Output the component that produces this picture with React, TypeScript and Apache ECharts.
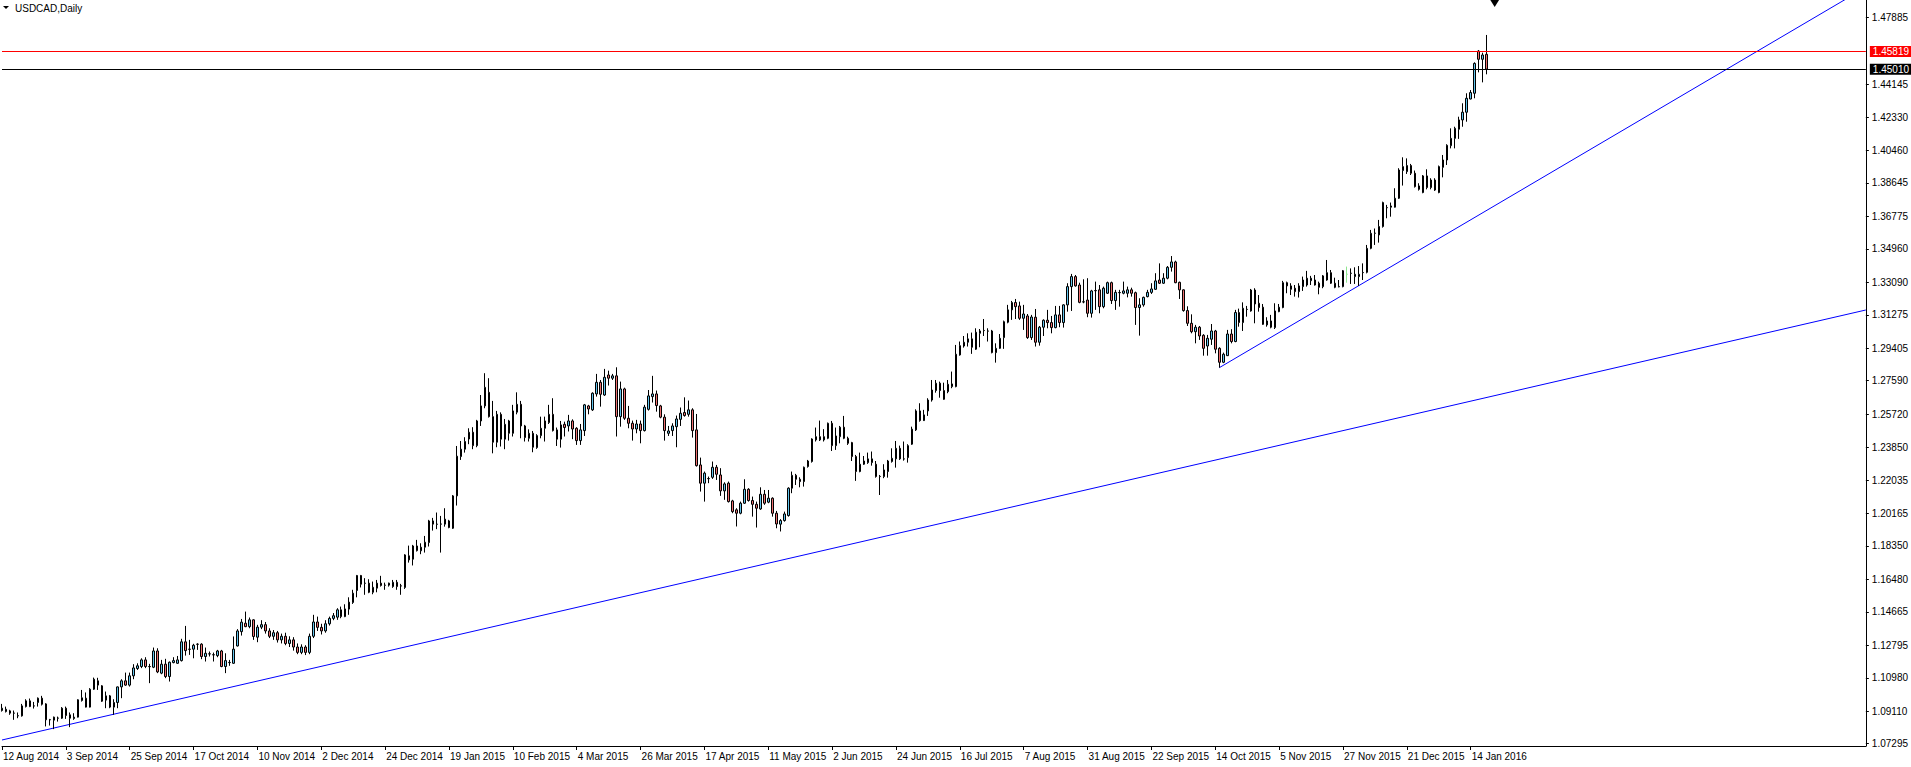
import React, { useEffect, useRef } from "react";
import * as echarts from "echarts";

const chartTitle = "USDCAD,Daily";
const dateLabels = [
  "12 Aug 2014", "3 Sep 2014", "25 Sep 2014", "17 Oct 2014", "10 Nov 2014", "2 Dec 2014",
  "24 Dec 2014", "19 Jan 2015", "10 Feb 2015", "4 Mar 2015", "26 Mar 2015", "17 Apr 2015",
  "11 May 2015", "2 Jun 2015", "24 Jun 2015", "16 Jul 2015", "7 Aug 2015", "31 Aug 2015",
  "22 Sep 2015", "14 Oct 2015", "5 Nov 2015", "27 Nov 2015", "21 Dec 2015", "14 Jan 2016",
];
const barsPerLabel = 16;
const slotCount = 468;
const priceTicks = [
  1.07295, 1.0911, 1.1098, 1.12795, 1.14665, 1.1648, 1.1835, 1.20165, 1.22035, 1.2385, 1.2572,
  1.2759, 1.29405, 1.31275, 1.3309, 1.3496, 1.36775, 1.38645, 1.4046, 1.4233, 1.44145, 1.47885,
];
const priceMin = 1.07166;
const priceMax = 1.48875;

// [open, close, low, high]
const ohlc: number[][] = [
  [1.0915, 1.0928, 1.0909, 1.0952], [1.0909, 1.0922, 1.0904, 1.0937], [1.0913, 1.0900, 1.0891, 1.0919],
  [1.0900, 1.0901, 1.0863, 1.0915], [1.0885, 1.0886, 1.0872, 1.0904], [1.0885, 1.0941, 1.0881, 1.0952],
  [1.0937, 1.0969, 1.0932, 1.0978], [1.0969, 1.0937, 1.0934, 1.0982], [1.0941, 1.0940, 1.0926, 1.0963],
  [1.0960, 1.0984, 1.0937, 1.0988], [1.0984, 1.0950, 1.0943, 1.0997], [1.0952, 1.0863, 1.0826, 1.0956],
  [1.0863, 1.0864, 1.0831, 1.0868], [1.0861, 1.0878, 1.0811, 1.0881], [1.0872, 1.0873, 1.0853, 1.0881],
  [1.0872, 1.0928, 1.0868, 1.0934], [1.0928, 1.0887, 1.0868, 1.0937], [1.0891, 1.0872, 1.0822, 1.0904],
  [1.0870, 1.0878, 1.0863, 1.0900], [1.0878, 1.0975, 1.0876, 1.0978], [1.0971, 1.0986, 1.0965, 1.1030],
  [1.0984, 1.0934, 1.0932, 1.1016], [1.0934, 1.1034, 1.0932, 1.1040], [1.1034, 1.1090, 1.1030, 1.1099],
  [1.1081, 1.1057, 1.1030, 1.1098], [1.1053, 1.0967, 1.0963, 1.1057], [1.0973, 1.0997, 1.0928, 1.1021],
  [1.0997, 1.0934, 1.0928, 1.1002], [1.0934, 1.0960, 1.0891, 1.0978], [1.0960, 1.1047, 1.0928, 1.1049],
  [1.1047, 1.1081, 1.0984, 1.1090], [1.1081, 1.1057, 1.1053, 1.1127], [1.1057, 1.1109, 1.1049, 1.1127],
  [1.1109, 1.1153, 1.1090, 1.1174], [1.1150, 1.1165, 1.1142, 1.1179], [1.1161, 1.1198, 1.1152, 1.1207],
  [1.1198, 1.1161, 1.1152, 1.1213], [1.1161, 1.1160, 1.1068, 1.1176], [1.1157, 1.1248, 1.1152, 1.1267],
  [1.1248, 1.1131, 1.1124, 1.1263], [1.1124, 1.1174, 1.1118, 1.1198], [1.1174, 1.1105, 1.1096, 1.1204],
  [1.1105, 1.1185, 1.1077, 1.1189], [1.1183, 1.1194, 1.1179, 1.1213], [1.1179, 1.1198, 1.1176, 1.1220],
  [1.1194, 1.1299, 1.1189, 1.1316], [1.1299, 1.1250, 1.1222, 1.1388], [1.1258, 1.1257, 1.1226, 1.1310],
  [1.1258, 1.1280, 1.1207, 1.1288], [1.1286, 1.1285, 1.1254, 1.1291], [1.1286, 1.1217, 1.1202, 1.1291],
  [1.1217, 1.1235, 1.1189, 1.1267], [1.1232, 1.1231, 1.1217, 1.1245], [1.1226, 1.1227, 1.1189, 1.1239],
  [1.1222, 1.1248, 1.1213, 1.1254], [1.1248, 1.1161, 1.1157, 1.1254], [1.1161, 1.1194, 1.1124, 1.1235],
  [1.1183, 1.1184, 1.1165, 1.1198], [1.1179, 1.1258, 1.1176, 1.1329], [1.1276, 1.1360, 1.1273, 1.1370],
  [1.1356, 1.1409, 1.1334, 1.1427], [1.1403, 1.1384, 1.1381, 1.1468], [1.1384, 1.1422, 1.1375, 1.1435],
  [1.1422, 1.1329, 1.1310, 1.1425], [1.1325, 1.1381, 1.1297, 1.1394], [1.1381, 1.1395, 1.1370, 1.1420],
  [1.1395, 1.1360, 1.1345, 1.1410], [1.1360, 1.1330, 1.1320, 1.1375], [1.1330, 1.1350, 1.1310, 1.1365],
  [1.1350, 1.1310, 1.1295, 1.1360], [1.1310, 1.1330, 1.1290, 1.1345], [1.1330, 1.1290, 1.1280, 1.1350],
  [1.1290, 1.1310, 1.1270, 1.1330], [1.1310, 1.1270, 1.1250, 1.1325], [1.1270, 1.1240, 1.1230, 1.1290],
  [1.1240, 1.1270, 1.1230, 1.1285], [1.1270, 1.1240, 1.1225, 1.1280], [1.1240, 1.1330, 1.1230, 1.1345],
  [1.1330, 1.1410, 1.1320, 1.1450], [1.1410, 1.1380, 1.1360, 1.1440], [1.1380, 1.1360, 1.1340, 1.1400],
  [1.1360, 1.1400, 1.1350, 1.1420], [1.1400, 1.1430, 1.1390, 1.1440], [1.1430, 1.1445, 1.1420, 1.1460],
  [1.1437, 1.1478, 1.1422, 1.1487], [1.1478, 1.1440, 1.1431, 1.1496], [1.1440, 1.1483, 1.1437, 1.1509],
  [1.1482, 1.1521, 1.1450, 1.1548], [1.1519, 1.1571, 1.1511, 1.1590], [1.1586, 1.1670, 1.1548, 1.1673],
  [1.1670, 1.1621, 1.1603, 1.1673], [1.1627, 1.1626, 1.1562, 1.1655], [1.1627, 1.1576, 1.1571, 1.1649],
  [1.1576, 1.1604, 1.1565, 1.1636], [1.1599, 1.1627, 1.1576, 1.1645], [1.1627, 1.1614, 1.1608, 1.1668],
  [1.1616, 1.1615, 1.1590, 1.1630], [1.1616, 1.1627, 1.1608, 1.1630], [1.1608, 1.1632, 1.1601, 1.1645],
  [1.1632, 1.1608, 1.1590, 1.1645], [1.1612, 1.1611, 1.1562, 1.1623], [1.1603, 1.1785, 1.1595, 1.1789],
  [1.1780, 1.1757, 1.1742, 1.1837], [1.1761, 1.1835, 1.1726, 1.1841], [1.1835, 1.1809, 1.1804, 1.1869],
  [1.1808, 1.1828, 1.1789, 1.1850], [1.1828, 1.1856, 1.1798, 1.1891], [1.1854, 1.1975, 1.1832, 1.1981],
  [1.1975, 1.1957, 1.1921, 1.1992], [1.1957, 1.1956, 1.1929, 1.2022], [1.1957, 1.1958, 1.1798, 1.2003],
  [1.1957, 1.1985, 1.1943, 1.2046], [1.1975, 1.1938, 1.1934, 1.1981], [1.1934, 1.2115, 1.1930, 1.2120],
  [1.2115, 1.2337, 1.2061, 1.2394], [1.2335, 1.2376, 1.2316, 1.2422], [1.2376, 1.2419, 1.2357, 1.2443],
  [1.2433, 1.2471, 1.2404, 1.2493], [1.2471, 1.2396, 1.2376, 1.2499], [1.2396, 1.2534, 1.2387, 1.2540],
  [1.2534, 1.2618, 1.2506, 1.2679], [1.2618, 1.2722, 1.2605, 1.2801], [1.2694, 1.2558, 1.2553, 1.2773],
  [1.2558, 1.2415, 1.2353, 1.2646], [1.2415, 1.2571, 1.2387, 1.2590], [1.2571, 1.2432, 1.2391, 1.2582],
  [1.2432, 1.2515, 1.2376, 1.2545], [1.2534, 1.2465, 1.2424, 1.2540], [1.2465, 1.2590, 1.2447, 1.2624],
  [1.2583, 1.2627, 1.2571, 1.2694], [1.2627, 1.2506, 1.2437, 1.2646], [1.2506, 1.2441, 1.2419, 1.2512],
  [1.2437, 1.2465, 1.2419, 1.2487], [1.2465, 1.2387, 1.2359, 1.2478], [1.2385, 1.2452, 1.2378, 1.2460],
  [1.2452, 1.2493, 1.2437, 1.2558], [1.2493, 1.2534, 1.2419, 1.2558], [1.2525, 1.2571, 1.2517, 1.2624],
  [1.2571, 1.2480, 1.2475, 1.2661], [1.2484, 1.2432, 1.2394, 1.2497], [1.2432, 1.2512, 1.2385, 1.2534],
  [1.2515, 1.2497, 1.2447, 1.2530], [1.2506, 1.2534, 1.2475, 1.2568], [1.2534, 1.2489, 1.2432, 1.2543],
  [1.2493, 1.2424, 1.2400, 1.2499], [1.2424, 1.2484, 1.2400, 1.2517], [1.2480, 1.2624, 1.2450, 1.2629],
  [1.2618, 1.2601, 1.2571, 1.2624], [1.2596, 1.2689, 1.2590, 1.2694], [1.2685, 1.2750, 1.2670, 1.2797],
  [1.2750, 1.2683, 1.2614, 1.2763], [1.2679, 1.2778, 1.2674, 1.2825], [1.2791, 1.2773, 1.2732, 1.2815],
  [1.2773, 1.2786, 1.2763, 1.2797], [1.2786, 1.2558, 1.2447, 1.2834], [1.2558, 1.2713, 1.2502, 1.2754],
  [1.2713, 1.2549, 1.2540, 1.2720], [1.2549, 1.2521, 1.2493, 1.2618], [1.2521, 1.2489, 1.2424, 1.2536],
  [1.2489, 1.2517, 1.2465, 1.2540], [1.2517, 1.2480, 1.2409, 1.2536], [1.2480, 1.2611, 1.2475, 1.2624],
  [1.2599, 1.2674, 1.2592, 1.2707], [1.2670, 1.2685, 1.2637, 1.2786], [1.2685, 1.2620, 1.2586, 1.2704],
  [1.2618, 1.2555, 1.2549, 1.2624], [1.2555, 1.2480, 1.2424, 1.2571], [1.2465, 1.2478, 1.2450, 1.2506],
  [1.2480, 1.2506, 1.2450, 1.2521], [1.2502, 1.2545, 1.2387, 1.2564], [1.2543, 1.2577, 1.2506, 1.2609],
  [1.2581, 1.2564, 1.2558, 1.2666], [1.2571, 1.2596, 1.2558, 1.2648], [1.2596, 1.2480, 1.2441, 1.2605],
  [1.2484, 1.2284, 1.2279, 1.2573], [1.2288, 1.2186, 1.2139, 1.2329], [1.2186, 1.2242, 1.2083, 1.2251],
  [1.2212, 1.2211, 1.2186, 1.2223], [1.2219, 1.2275, 1.2210, 1.2307], [1.2275, 1.2236, 1.2204, 1.2288],
  [1.2232, 1.2143, 1.2115, 1.2270], [1.2143, 1.2182, 1.2093, 1.2191], [1.2186, 1.2083, 1.2078, 1.2195],
  [1.2087, 1.2027, 1.2018, 1.2093], [1.2037, 1.2018, 1.1944, 1.2046], [1.2018, 1.2074, 1.2012, 1.2083],
  [1.2074, 1.2152, 1.2070, 1.2208], [1.2152, 1.2089, 1.2083, 1.2158], [1.2089, 1.2068, 1.1999, 1.2111],
  [1.2068, 1.2046, 1.1938, 1.2083], [1.2042, 1.2124, 1.2037, 1.2163], [1.2124, 1.2074, 1.2065, 1.2148],
  [1.2080, 1.2102, 1.2074, 1.2148], [1.2102, 1.2018, 1.1999, 1.2107], [1.2018, 1.1958, 1.1934, 1.2031],
  [1.1957, 1.1977, 1.1916, 1.1985], [1.1977, 1.2014, 1.1971, 1.2027], [1.2005, 1.2158, 1.1999, 1.2163],
  [1.2158, 1.2230, 1.2130, 1.2251], [1.2230, 1.2208, 1.2176, 1.2238], [1.2208, 1.2195, 1.2163, 1.2219],
  [1.2195, 1.2275, 1.2167, 1.2279], [1.2279, 1.2310, 1.2273, 1.2316], [1.2307, 1.2433, 1.2301, 1.2437],
  [1.2428, 1.2446, 1.2419, 1.2497], [1.2446, 1.2428, 1.2422, 1.2536], [1.2428, 1.2446, 1.2419, 1.2488],
  [1.2437, 1.2521, 1.2432, 1.2525], [1.2521, 1.2396, 1.2366, 1.2534], [1.2396, 1.2450, 1.2372, 1.2497],
  [1.2446, 1.2499, 1.2409, 1.2506], [1.2499, 1.2437, 1.2432, 1.2562], [1.2437, 1.2409, 1.2400, 1.2446],
  [1.2413, 1.2335, 1.2310, 1.2417], [1.2335, 1.2251, 1.2199, 1.2344], [1.2251, 1.2292, 1.2247, 1.2357],
  [1.2292, 1.2310, 1.2288, 1.2338], [1.2301, 1.2322, 1.2294, 1.2357], [1.2301, 1.2322, 1.2284, 1.2363],
  [1.2292, 1.2223, 1.2217, 1.2310], [1.2223, 1.2224, 1.2120, 1.2232], [1.2223, 1.2260, 1.2214, 1.2292],
  [1.2251, 1.2310, 1.2217, 1.2316], [1.2307, 1.2325, 1.2301, 1.2381], [1.2322, 1.2381, 1.2273, 1.2422],
  [1.2381, 1.2322, 1.2316, 1.2396], [1.2322, 1.2321, 1.2312, 1.2419], [1.2329, 1.2396, 1.2301, 1.2404],
  [1.2404, 1.2488, 1.2400, 1.2502], [1.2484, 1.2590, 1.2478, 1.2599], [1.2590, 1.2536, 1.2530, 1.2633],
  [1.2536, 1.2568, 1.2534, 1.2596], [1.2590, 1.2651, 1.2562, 1.2661], [1.2651, 1.2707, 1.2642, 1.2763],
  [1.2704, 1.2745, 1.2692, 1.2763], [1.2745, 1.2704, 1.2664, 1.2754], [1.2704, 1.2655, 1.2652, 1.2748],
  [1.2698, 1.2739, 1.2689, 1.2763], [1.2726, 1.2741, 1.2717, 1.2810], [1.2726, 1.2907, 1.2722, 1.2959],
  [1.2903, 1.2955, 1.2899, 1.2978], [1.2953, 1.2974, 1.2944, 1.3009], [1.2974, 1.2993, 1.2950, 1.3024],
  [1.2993, 1.2946, 1.2909, 1.3028], [1.2935, 1.3030, 1.2931, 1.3052], [1.3024, 1.3037, 1.2946, 1.3048],
  [1.3039, 1.3040, 1.3009, 1.3104], [1.3037, 1.3036, 1.2978, 1.3052], [1.3037, 1.2916, 1.2912, 1.3043],
  [1.2916, 1.2940, 1.2860, 1.2968], [1.2940, 1.2996, 1.2937, 1.3020], [1.3000, 1.3089, 1.2937, 1.3095],
  [1.3086, 1.3155, 1.3080, 1.3183], [1.3155, 1.3196, 1.3099, 1.3205], [1.3196, 1.3173, 1.3104, 1.3216],
  [1.3177, 1.3108, 1.3099, 1.3201], [1.3108, 1.3132, 1.3043, 1.3183], [1.3121, 1.3000, 1.2993, 1.3132],
  [1.3000, 1.3115, 1.2987, 1.3127], [1.3114, 1.2974, 1.2950, 1.3160], [1.2974, 1.3058, 1.2955, 1.3065],
  [1.3058, 1.3097, 1.3009, 1.3102], [1.3097, 1.3084, 1.3052, 1.3155], [1.3084, 1.3056, 1.3024, 1.3121],
  [1.3056, 1.3127, 1.3052, 1.3177], [1.3127, 1.3084, 1.3058, 1.3177], [1.3084, 1.3183, 1.3056, 1.3186],
  [1.3183, 1.3285, 1.3145, 1.3304], [1.3285, 1.3341, 1.3149, 1.3356], [1.3341, 1.3289, 1.3285, 1.3350],
  [1.3294, 1.3197, 1.3192, 1.3307], [1.3199, 1.3200, 1.3192, 1.3326], [1.3210, 1.3136, 1.3114, 1.3332],
  [1.3136, 1.3261, 1.3112, 1.3267], [1.3263, 1.3262, 1.3155, 1.3313], [1.3267, 1.3173, 1.3136, 1.3294],
  [1.3173, 1.3276, 1.3164, 1.3285], [1.3248, 1.3307, 1.3244, 1.3313], [1.3307, 1.3207, 1.3188, 1.3313],
  [1.3207, 1.3253, 1.3155, 1.3267], [1.3252, 1.3251, 1.3173, 1.3267], [1.3248, 1.3261, 1.3242, 1.3313],
  [1.3248, 1.3267, 1.3225, 1.3285], [1.3267, 1.3248, 1.3229, 1.3279], [1.3251, 1.3168, 1.3071, 1.3257],
  [1.3168, 1.3183, 1.3011, 1.3220], [1.3183, 1.3225, 1.3173, 1.3229], [1.3229, 1.3253, 1.3225, 1.3267],
  [1.3253, 1.3272, 1.3244, 1.3304], [1.3270, 1.3317, 1.3267, 1.3360], [1.3322, 1.3304, 1.3300, 1.3415],
  [1.3304, 1.3332, 1.3300, 1.3360], [1.3332, 1.3393, 1.3326, 1.3400], [1.3393, 1.3423, 1.3369, 1.3456],
  [1.3423, 1.3307, 1.3304, 1.3430], [1.3309, 1.3267, 1.3216, 1.3313], [1.3267, 1.3151, 1.3145, 1.3270],
  [1.3151, 1.3080, 1.3065, 1.3175], [1.3080, 1.3033, 1.3024, 1.3130], [1.3033, 1.3058, 1.2968, 1.3071],
  [1.3058, 1.3009, 1.2987, 1.3065], [1.3013, 1.2940, 1.2899, 1.3019], [1.2953, 1.2996, 1.2899, 1.3015],
  [1.2991, 1.3037, 1.2959, 1.3076], [1.3037, 1.2935, 1.2912, 1.3043], [1.2940, 1.2862, 1.2832, 1.2946],
  [1.2862, 1.2907, 1.2857, 1.2916], [1.2899, 1.3020, 1.2897, 1.3043], [1.3020, 1.2978, 1.2968, 1.3047],
  [1.2978, 1.3140, 1.2974, 1.3155], [1.3140, 1.3084, 1.3061, 1.3162], [1.3084, 1.3164, 1.3037, 1.3197],
  [1.3158, 1.3157, 1.3117, 1.3177], [1.3149, 1.3266, 1.3145, 1.3272], [1.3266, 1.3188, 1.3080, 1.3276],
  [1.3192, 1.3168, 1.3145, 1.3238], [1.3170, 1.3074, 1.3071, 1.3188], [1.3071, 1.3093, 1.3061, 1.3114],
  [1.3093, 1.3058, 1.3052, 1.3127], [1.3056, 1.3149, 1.3048, 1.3192], [1.3145, 1.3170, 1.3142, 1.3188],
  [1.3168, 1.3307, 1.3164, 1.3317], [1.3307, 1.3289, 1.3248, 1.3313], [1.3289, 1.3270, 1.3238, 1.3304],
  [1.3276, 1.3257, 1.3229, 1.3294], [1.3257, 1.3289, 1.3224, 1.3304], [1.3285, 1.3322, 1.3261, 1.3341],
  [1.3294, 1.3332, 1.3285, 1.3373], [1.3318, 1.3332, 1.3294, 1.3345], [1.3322, 1.3294, 1.3291, 1.3350],
  [1.3304, 1.3281, 1.3242, 1.3313], [1.3285, 1.3345, 1.3276, 1.3350], [1.3322, 1.3363, 1.3318, 1.3434],
  [1.3363, 1.3304, 1.3300, 1.3378], [1.3304, 1.3281, 1.3276, 1.3335], [1.3285, 1.3284, 1.3281, 1.3322],
  [1.3285, 1.3374, 1.3281, 1.3378], [1.3354, 1.3354, 1.3307, 1.3397], [1.3359, 1.3360, 1.3300, 1.3387],
  [1.3341, 1.3354, 1.3300, 1.3393], [1.3341, 1.3354, 1.3289, 1.3400], [1.3363, 1.3364, 1.3322, 1.3415],
  [1.3365, 1.3499, 1.3359, 1.3518], [1.3499, 1.3583, 1.3494, 1.3602], [1.3583, 1.3584, 1.3518, 1.3610],
  [1.3574, 1.3621, 1.3531, 1.3658], [1.3621, 1.3755, 1.3615, 1.3760], [1.3727, 1.3726, 1.3667, 1.3742],
  [1.3729, 1.3736, 1.3676, 1.3755], [1.3729, 1.3779, 1.3727, 1.3835], [1.3779, 1.3937, 1.3775, 1.3947],
  [1.3934, 1.3956, 1.3850, 1.4008], [1.3928, 1.3962, 1.3915, 1.4002], [1.3962, 1.3919, 1.3909, 1.3971],
  [1.3919, 1.3844, 1.3839, 1.3934], [1.3848, 1.3829, 1.3822, 1.3863], [1.3811, 1.3904, 1.3807, 1.3909],
  [1.3904, 1.3839, 1.3829, 1.3941], [1.3839, 1.3881, 1.3829, 1.3891], [1.3881, 1.3825, 1.3820, 1.3891],
  [1.3811, 1.3956, 1.3807, 1.3962], [1.3952, 1.3993, 1.3896, 1.4021], [1.3993, 1.4075, 1.3965, 1.4081],
  [1.4073, 1.4114, 1.4058, 1.4170], [1.4114, 1.4170, 1.4058, 1.4179], [1.4165, 1.4217, 1.4111, 1.4235],
  [1.4217, 1.4260, 1.4179, 1.4310], [1.4260, 1.4338, 1.4207, 1.4366], [1.4334, 1.4370, 1.4332, 1.4384],
  [1.4366, 1.4533, 1.4338, 1.4539], [1.4602, 1.4556, 1.4483, 1.4608], [1.4556, 1.4580, 1.4427, 1.4593],
  [1.4584, 1.4501, 1.4472, 1.4692],
];

const longTrend: number[][] = [[0, 1.07502], [467, 1.31543]];
const shortTrend: number[][] = [[305, 1.28317], [462, 1.48927]];
const redLevel = 1.45819;
const bidLevel = 1.4501;
const arrowSlot = 373.5;

const FONT = "'Liberation Sans', Arial, sans-serif";
const BULL = "#62c4ec";
const BEAR = "#ec6f6f";
const DOJI = "#8ee68e";

export default function App() {
  const ref = useRef<HTMLDivElement>(null);

  useEffect(() => {
    document.body.style.margin = "0";
    const chart = echarts.init(ref.current as HTMLDivElement, undefined, { renderer: "svg" });
    const slots = Array.from({ length: slotCount }, (_, i) => String(i));
    const isLabelSlot = (i: number) => i % barsPerLabel === 0 && i / barsPerLabel < dateLabels.length;

    const levelLabel = (v: number, bg: string) => ({
      show: true,
      position: "end",
      formatter: v.toFixed(5),
      color: "#fff",
      backgroundColor: bg,
      padding: [1, 3, 0, 3],
      fontSize: 10,
      fontFamily: FONT,
      distance: 4,
    });

    chart.setOption({
      animation: false,
      backgroundColor: "#fff",
      grid: { left: 0.5, top: 0, width: 1868, height: 746, containLabel: false },
      xAxis: {
        type: "category",
        data: slots,
        boundaryGap: false,
        axisLine: { show: true, lineStyle: { color: "#000", width: 1 } },
        axisTick: { show: true, length: 4, interval: (i: number) => isLabelSlot(i), lineStyle: { color: "#000" } },
        axisLabel: {
          interval: (i: number) => isLabelSlot(i),
          formatter: (_v: string, i: number) => (isLabelSlot(i) ? dateLabels[i / barsPerLabel] : ""),
          align: "left",
          color: "#000",
          fontSize: 10,
          fontFamily: FONT,
          margin: 5,
          padding: [0, 0, 0, 1],
        },
        splitLine: { show: false },
      },
      yAxis: {
        type: "value",
        position: "right",
        min: priceMin,
        max: priceMax,
        axisLine: { show: true, lineStyle: { color: "#000", width: 1 } },
        axisTick: { show: true, length: 3, customValues: priceTicks, lineStyle: { color: "#000" } },
        axisLabel: {
          customValues: priceTicks,
          formatter: (v: number) => v.toFixed(5),
          color: "#000",
          fontSize: 10,
          fontFamily: FONT,
          margin: 6,
          verticalAlign: "middle",
          verticalAlignMinLabel: "middle",
          verticalAlignMaxLabel: "middle",
        },
        splitLine: { show: false },
      },
      graphic: [
        { type: "polygon", shape: { points: [[3, 6], [9, 6], [6, 9]] }, style: { fill: "#000" } },
        {
          type: "text",
          x: 15,
          y: 8,
          style: { text: chartTitle, fill: "#000", font: `10px ${FONT}`, verticalAlign: "middle" },
        },
      ],
      series: [
        {
          type: "line",
          data: longTrend,
          symbol: "none",
          lineStyle: { color: "#0000ff", width: 1 },
          z: 1,
          silent: true,
          markLine: {
            silent: true,
            symbol: ["none", "none"],
            animation: false,
            data: [
              { yAxis: redLevel, lineStyle: { color: "#ff0000", width: 1, type: "solid" }, label: levelLabel(redLevel, "#ff0000") },
              { yAxis: bidLevel, lineStyle: { color: "#000000", width: 1, type: "solid" }, label: levelLabel(bidLevel, "#000000") },
            ],
          },
          markPoint: {
            silent: true,
            animation: false,
            data: [
              {
                coord: [arrowSlot, priceMax],
                symbol: "triangle",
                symbolRotate: 180,
                symbolSize: [10, 8],
                symbolOffset: [0, 3],
                itemStyle: { color: "#000" },
                label: { show: false },
              },
            ],
          },
        },
        {
          type: "line",
          data: shortTrend,
          symbol: "none",
          lineStyle: { color: "#0000ff", width: 1 },
          z: 1,
          silent: true,
        },
        {
          type: "candlestick",
          data: ohlc,
          barWidth: 2,
          z: 3,
          itemStyle: {
            color: BULL,
            color0: BEAR,
            borderColor: "#000",
            borderColor0: "#000",
            borderColorDoji: DOJI,
            borderWidth: 1,
          },
        },
      ],
    });
    return () => chart.dispose();
  }, []);

  return (
    <div
      ref={ref}
      style={{ position: "absolute", left: 0, top: 0, width: 1911, height: 767, background: "#fff" }}
    />
  );
}
